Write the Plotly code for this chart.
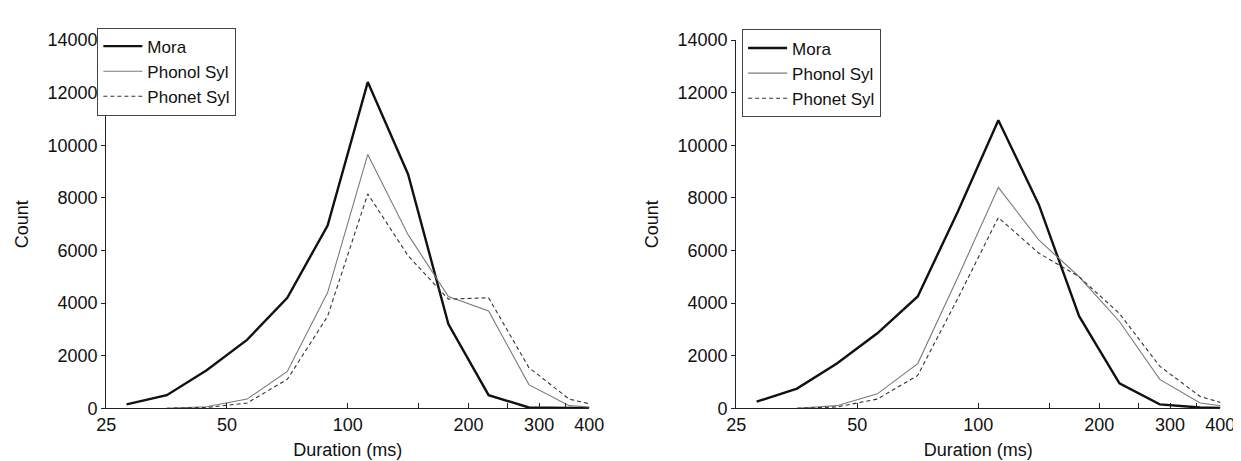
import plotly.graph_objects as go

# Bin centres (ms), third-octave spaced; last bin lies beyond the 400 ms axis end
durations = [28.1, 35.4, 44.5, 56.1, 70.7, 89.1, 112.2, 141.4, 178.2, 224.5, 282.8, 356.4, 449.0]

# Left panel
mora_left = [150, 500, 1450, 2600, 4200, 6950, 12400, 8900, 3200, 500, 30, 10, 0]
phonol_left = [None, 0, 60, 350, 1400, 4400, 9650, 6600, 4250, 3700, 900, 100, 0]
phonet_left = [None, 0, 30, 200, 1100, 3500, 8150, 5800, 4150, 4200, 1550, 350, 0]

# Right panel
mora_right = [250, 750, 1700, 2850, 4250, 7500, 10950, 7750, 3500, 950, 150, 30, 0]
phonol_right = [None, 0, 100, 550, 1700, 5000, 8400, 6400, 5000, 3300, 1100, 200, 0]
phonet_right = [None, 0, 50, 350, 1250, 4200, 7250, 5900, 5000, 3600, 1600, 450, 0]

series_names = ["Mora", "Phonol Syl", "Phonet Syl"]
x_tickvals = [25, 50, 100, 150, 200, 250, 300, 350, 400]
x_ticktext = ["25", "50", "100", "", "200", "", "300", "", "400"]
y_tickvals = [0, 2000, 4000, 6000, 8000, 10000, 12000, 14000]
y_ticktext = ["0", "2000", "4000", "6000", "8000", "10000", "12000", "14000"]

FONT = "Liberation Sans, Arial, sans-serif"
W, H = 1241, 461

styles = [
    dict(color="#111111", width=2.4),
    dict(color="#7a7a7a", width=1.1),
    dict(color="#333333", width=1.1, dash="4px,3px"),
]

fig = go.Figure()
panels = [
    ("x", "y", "legend", [mora_left, phonol_left, phonet_left]),
    ("x2", "y2", "legend2", [mora_right, phonol_right, phonet_right]),
]
for xa, ya, lg, data in panels:
    for name, vals, st in zip(series_names, data, styles):
        fig.add_trace(go.Scatter(
            x=durations, y=vals, name=name, mode="lines",
            line=st, xaxis=xa, yaxis=ya, legend=lg, connectgaps=False,
        ))

ydom = [53 / H, 438 / H]
xdoms = [[90 / W, 583 / W], [733 / W, 1227 / W]]

def xaxis_cfg(dom, anchor):
    return dict(
        type="log", range=[1.39794, 2.60206], domain=dom, anchor=anchor,
        tickvals=x_tickvals, ticktext=x_ticktext, ticks="inside", ticklen=5,
        tickcolor="#222", tickwidth=1, tickangle=0,
        showline=True, linecolor="#222", linewidth=1, showgrid=False, zeroline=False,
        tickfont=dict(family=FONT, size=18, color="#111"),
        title=dict(text="Duration (ms)", font=dict(family=FONT, size=18, color="#111"), standoff=9),
    )

def yaxis_cfg(anchor):
    return dict(
        range=[0, 14000], domain=ydom, anchor=anchor,
        tickvals=y_tickvals, ticktext=y_ticktext, ticks="outside", ticklen=4, tickcolor="#222",
        showline=True, linecolor="#222", linewidth=1, showgrid=False, zeroline=False,
        tickfont=dict(family=FONT, size=18, color="#111"),
        title=dict(text="Count", font=dict(family=FONT, size=18, color="#111"), standoff=14),
    )

legend_common = dict(
    font=dict(family=FONT, size=17, color="#111"),
    bordercolor="#444", borderwidth=1, bgcolor="white",
    xanchor="left", yanchor="top", tracegroupgap=0, itemwidth=39,
)

fig.update_layout(
    width=W, height=H,
    margin=dict(l=0, r=0, t=0, b=0),
    paper_bgcolor="white", plot_bgcolor="white",
    xaxis=xaxis_cfg(xdoms[0], "y"),
    yaxis=yaxis_cfg("x"),
    xaxis2=xaxis_cfg(xdoms[1], "y2"),
    yaxis2=yaxis_cfg("x2"),
    legend=dict(x=81 / W, y=1 - 10 / H, **legend_common),
    legend2=dict(x=739 / W, y=1 - 12 / H, **legend_common),
)

fig.write_html("out.html")
